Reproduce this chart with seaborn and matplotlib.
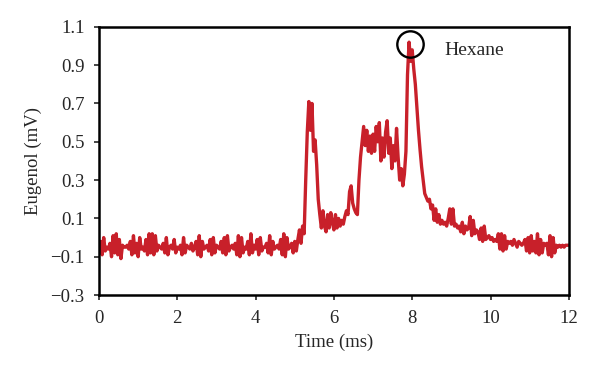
import numpy as np
import pandas as pd
import seaborn as sns
import matplotlib.pyplot as plt

# sampled signal, one value every 0.04 ms from 0 to 12 ms
step_ms = 0.04
eugenol_mv = [
  # 0-1 ms
  -0.06, -0.02, -0.09, 0.00, -0.07, -0.05, -0.06, -0.03, -0.10, 0.01, -0.08, 0.02, -0.09,
  -0.01, -0.11, -0.04, -0.05, -0.05, -0.04, -0.06, -0.02, -0.09, 0.01, -0.08, -0.03,
  # 1-2 ms
  -0.10, 0.00, -0.06, -0.05, -0.07, -0.01, -0.09, 0.02, -0.08, 0.02, -0.09, 0.01, -0.07,
  -0.04, -0.05, -0.06, -0.03, -0.08, 0.00, -0.09, -0.05, -0.04, -0.06, -0.01, -0.08,
  # 2-3 ms
  -0.05, -0.06, -0.04, -0.09, 0.00, -0.08, -0.04, -0.05, -0.06, -0.03, -0.07, -0.05, -0.02,
  -0.09, 0.01, -0.10, -0.02, -0.06, -0.05, -0.04, -0.07, -0.01, -0.09, 0.00, -0.08,
  # 3-4 ms
  -0.04, -0.05, -0.06, -0.02, -0.08, 0.00, -0.09, 0.01, -0.07, -0.05, -0.04, -0.06, -0.03,
  -0.09, 0.01, -0.10, 0.00, -0.08, -0.05, -0.06, -0.02, -0.09, 0.02, -0.08, -0.04,
  # 4-5 ms
  -0.06, -0.01, -0.09, 0.00, -0.07, -0.05, -0.05, -0.03, -0.08, 0.01, -0.09, -0.02, -0.06,
  -0.05, -0.04, -0.06, -0.01, -0.09, 0.02, -0.10, 0.00, -0.06, -0.05, -0.03, -0.08,
  # 5-6 ms
  -0.02, -0.07, -0.01, 0.04, -0.03, 0.06, 0.02, 0.30, 0.55, 0.71, 0.56, 0.70, 0.45,
  0.51, 0.38, 0.20, 0.12, 0.05, 0.14, 0.06, 0.03, 0.12, 0.05, 0.13, 0.08,
  # 6-7 ms
  0.04, 0.12, 0.05, 0.10, 0.06, 0.09, 0.07, 0.11, 0.14, 0.12, 0.24, 0.27, 0.18,
  0.15, 0.13, 0.12, 0.30, 0.42, 0.50, 0.58, 0.48, 0.56, 0.45, 0.53, 0.44,
  # 7-8 ms
  0.54, 0.45, 0.58, 0.50, 0.60, 0.40, 0.52, 0.42, 0.55, 0.61, 0.44, 0.52, 0.36,
  0.48, 0.40, 0.57, 0.42, 0.30, 0.36, 0.27, 0.33, 0.45, 0.85, 1.02, 0.92,
  # 8-9 ms
  0.98, 0.88, 0.80, 0.68, 0.56, 0.46, 0.37, 0.30, 0.23, 0.21, 0.19, 0.20, 0.15,
  0.17, 0.09, 0.15, 0.08, 0.12, 0.07, 0.09, 0.07, 0.08, 0.06, 0.10, 0.15,
  # 9-10 ms
  0.07, 0.15, 0.06, 0.07, 0.05, 0.06, 0.03, 0.08, 0.02, 0.06, 0.04, 0.05, 0.11,
  0.01, 0.09, 0.02, 0.04, 0.03, -0.01, 0.05, -0.02, 0.06, -0.01, 0.00, 0.01,
  # 10-11 ms
  -0.01, 0.00, -0.02, -0.01, -0.02, 0.02, -0.06, 0.02, -0.07, 0.01, -0.06, -0.02, -0.03,
  -0.02, -0.04, -0.01, -0.03, -0.05, -0.02, -0.03, -0.04, -0.03, -0.01, -0.07, 0.00,
  # 11-12 ms
  -0.08, 0.01, -0.07, -0.02, -0.08, 0.02, -0.09, -0.01, -0.08, -0.03, -0.04, -0.03, -0.09,
  0.01, -0.10, 0.00, -0.08, -0.04, -0.05, -0.04, -0.05, -0.04, -0.05, -0.04, -0.04, -0.04,
]
time_ms = np.round(np.arange(len(eugenol_mv)) * step_ms, 2)

# marked peak
peak_time = 7.94
peak_value = 1.01
peak_label = "Hexane"

x_ticks = [0, 2, 4, 6, 8, 10, 12]
y_ticks = [-0.3, -0.1, 0.1, 0.3, 0.5, 0.7, 0.9, 1.1]

df = pd.DataFrame({"time": time_ms, "eugenol": eugenol_mv})

sns.set_style("ticks")
plt.rcParams['font.family'] = ['Liberation Serif', 'DejaVu Serif']

fig = plt.figure(figsize=(6, 3.73), dpi=100)
ax = fig.add_axes([0.165, 0.209, 0.783, 0.719])

sns.lineplot(data=df, x="time", y="eugenol", color="#c8202a", linewidth=2.4, ax=ax)

# circle round the peak and its label
ax.plot([peak_time], [peak_value], marker="o", markersize=19,
        markerfacecolor="none", markeredgecolor="black", markeredgewidth=1.7)
ax.text(8.83, 0.975, peak_label, fontsize=14, va="center", ha="left")

ax.set_xlim(0, 12)
ax.set_ylim(-0.3, 1.1)
ax.set_xticks(x_ticks)
ax.set_yticks(y_ticks)
ax.set_yticklabels([f"{v:.1f}".replace("-", "\u2212") for v in y_ticks])
ax.set_xlabel("Time (ms)", fontsize=13.5, labelpad=5)
ax.set_ylabel("Eugenol (mV)", fontsize=13.5, labelpad=6)
ax.tick_params(axis="both", direction="out", length=3.5, width=1.2, labelsize=13.5, pad=7)

for side in ["left", "bottom", "right", "top"]:
  ax.spines[side].set_visible(True)
  ax.spines[side].set_linewidth(1.8)
  ax.spines[side].set_color("black")

fig.savefig("out.png", dpi=100)
plt.close()
